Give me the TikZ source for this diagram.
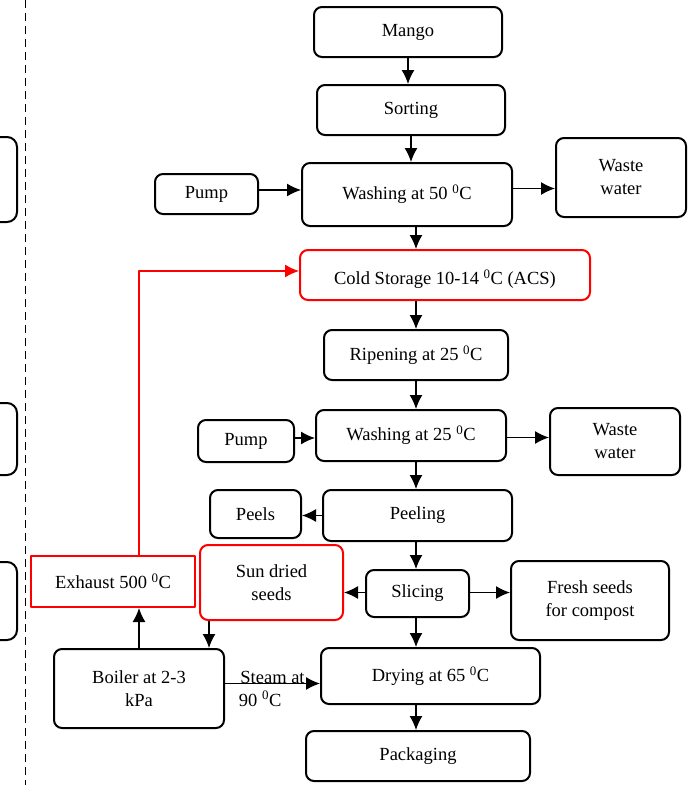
\documentclass[tikz,border=0pt]{standalone}
\usepackage{fontspec}
\setmainfont{Liberation Serif}
\usetikzlibrary{arrows.meta,positioning}
\newcommand{\degc}{\textsuperscript{0}C}
\tikzset{
  every picture/.style={
    line join=round,
    >={Latex[length=14pt,width=13pt]},
  },
  box/.style={draw, line width=2pt, rounded corners=8pt, align=center,
    font=\fontsize{18.5}{23}\selectfont, inner sep=2pt},
  hotbox/.style={box, draw=red},
  flow/.style={->, line width=1.3pt},
}

\begin{document}
\begin{tikzpicture}[x=1pt, y=-1pt]
\useasboundingbox (0,0) rectangle (693,785);
% column of the main line
\coordinate (col) at (416,0);

% Left margin (cut boxes and dashed line)
\draw[line width=2pt, rounded corners=10pt] (0,137) -- (17,137) -- (17,222) -- (0,222);
\draw[line width=2pt, rounded corners=10pt] (0,403) -- (17,403) -- (17,475) -- (0,475);
\draw[line width=2pt, rounded corners=10pt] (0,562) -- (17,562) -- (17,640) -- (0,640);
\draw[dashed, line width=1pt, dash pattern=on 8pt off 5pt] (25,0) -- (25,785);

% Main process steps
\node[box, minimum width=188, minimum height=50] (mango) at (408,32) {\raisebox{-2pt}{Mango}};
\node[box, minimum width=188, minimum height=50] (sorting) at (411,110) {\raisebox{-2pt}{Sorting}};
\node[box, minimum width=210, minimum height=63] (washA) at (407,194.5) {Washing at 50 \degc};
\node[hotbox, minimum width=290, minimum height=50, text depth=0pt] (cold) at (445,275) {\raisebox{-5pt}{Cold Storage 10-14 \degc{} (ACS)}};
\node[box, minimum width=184, minimum height=50] (ripen) at (416,355) {\raisebox{-4pt}{Ripening at 25 \degc}};
\node[box, minimum width=190, minimum height=51] (washB) at (411,435.5) {\raisebox{-4pt}{Washing at 25 \degc}};
\node[box, minimum width=189, minimum height=51] (peel) at (417.5,515.5) {Peeling};
\node[box, minimum width=103, minimum height=47] (slice) at (417.5,593.5) {Slicing};
\node[box, minimum width=219, minimum height=56] (drying) at (430.5,676) {\raisebox{-3pt}{Drying at 65 \degc}};
\node[box, minimum width=224, minimum height=50] (pack) at (418,756) {Packaging};

% Inputs and outputs
\node[box, minimum width=103, minimum height=40] (pumpA) at (206.5,194) {\raisebox{-4pt}{Pump}};
\node[box, minimum width=130, minimum height=79] (wasteA) at (621,177.5) {Waste\\water};
\node[box, minimum width=96, minimum height=42] (pumpB) at (246,441) {\raisebox{-4pt}{Pump}};
\node[box, minimum width=130, minimum height=67] (wasteB) at (615,441.5) {Waste\\water};
\node[box, minimum width=91, minimum height=48] (peels) at (255.5,514) {Peels};
\node[hotbox, minimum width=143, minimum height=75] (sundried) at (271.5,582.5) {Sun dried\\seeds};
\node[box, minimum width=158, minimum height=79] (fresh) at (590,600.5) {Fresh seeds\\for compost};
\node[hotbox, rounded corners=0pt, minimum width=164, minimum height=51] (exhaust) at (113,581.5) {Exhaust 500 \degc};
\node[box, minimum width=170, minimum height=79] (boiler) at (139,688.5) {Boiler at 2-3\\kPa};

% Arrows
\draw[flow] (mango.south) -- (mango.south |- sorting.north);
\draw[flow] (sorting.south) -- (sorting.south |- washA.north);
\draw[flow] ([yshift=4pt]pumpA.east) -- ([yshift=4pt]pumpA.east -| washA.west);
\draw[flow] ([yshift=6pt]washA.east) -- ([yshift=6pt]washA.east -| wasteA.west);
\draw[flow] (col |- washA.south) -- (col |- cold.north);
\draw[flow] (col |- cold.south) -- (col |- ripen.north);
\draw[flow] (col |- ripen.south) -- (col |- washB.north);
\draw[flow] ([yshift=3pt]pumpB.east) -- ([yshift=3pt]pumpB.east -| washB.west);
\draw[flow] ([yshift=4pt]wasteB.west -| washB.east) -- ([yshift=4pt]wasteB.west);
\draw[flow] (col |- washB.south) -- (col |- peel.north);
\draw[flow] (peel.west) -- (peel.west -| peels.east);
\draw[flow] (col |- peel.south) -- (col |- slice.north);
\draw[flow] ([yshift=1pt]slice.west) -- ([yshift=1pt]slice.west -| sundried.east);
\draw[flow] ([yshift=1pt]slice.east) -- ([yshift=1pt]slice.east -| fresh.west);
\draw[flow] (col |- slice.south) -- (col |- drying.north);
\draw[flow] (col |- drying.south) -- (col |- pack.north);
\draw[flow] (boiler.north) -- (boiler.north |- exhaust.south);
\draw[flow] ([xshift=10pt]sundried.south west) -- ([xshift=10pt]sundried.south west |- boiler.north);
\draw[flow] ([yshift=5pt]boiler.east) -- ([yshift=5pt]boiler.east -| drying.west)
  node[midway, above, inner sep=-1pt, font=\fontsize{18.5}{23}\selectfont] {Steam at}
  node[pos=0.14, anchor=north west, inner sep=0pt, yshift=-7pt, font=\fontsize{18.5}{23}\selectfont] {90 \degc};
% exhaust heat back to cold storage
\draw[flow, red, line width=1.3pt] (exhaust.north -| boiler.north) |- ([yshift=4pt]cold.west);
\end{tikzpicture}
\end{document}
